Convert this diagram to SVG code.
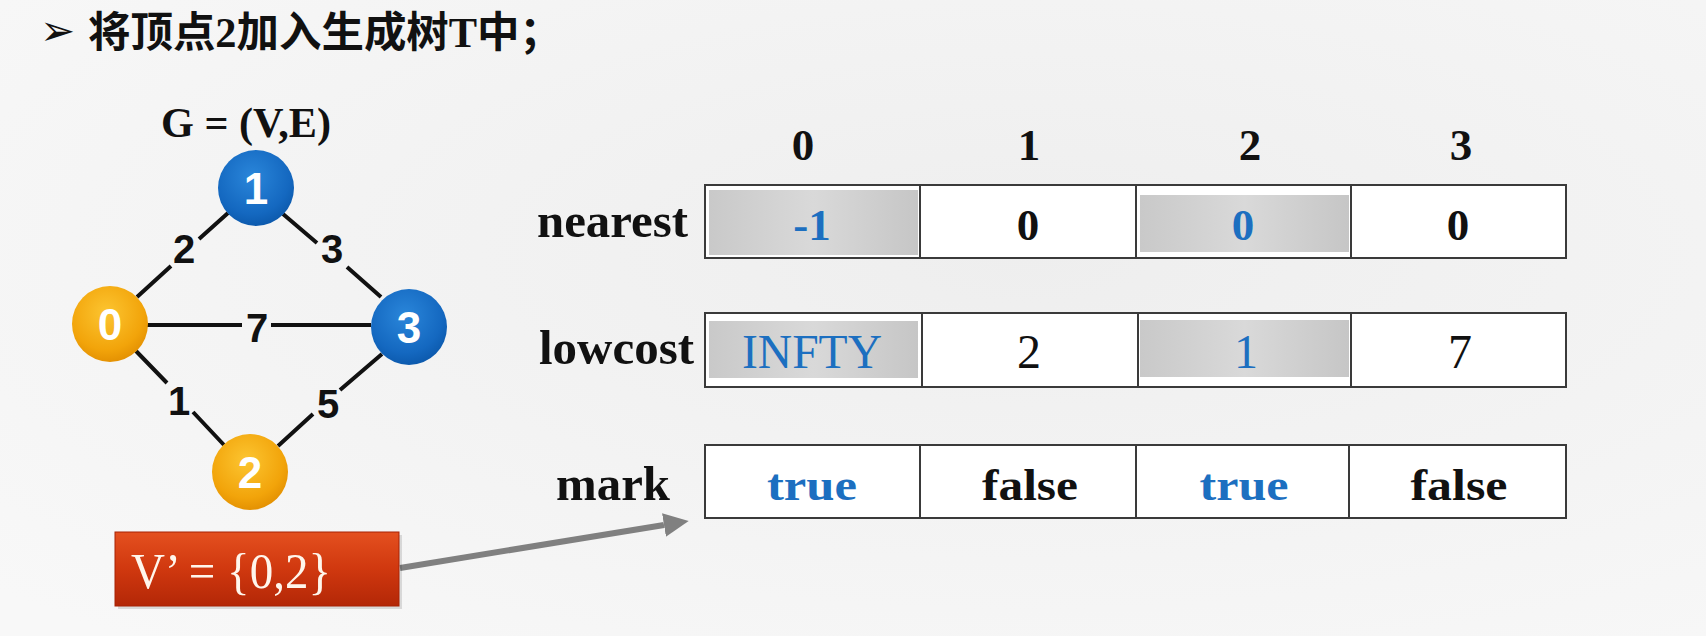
<svg xmlns="http://www.w3.org/2000/svg" width="1706" height="636" viewBox="0 0 1706 636">
  <defs>
    <style>
      .title { font-family: "Noto Sans CJK SC", "Liberation Sans", sans-serif; font-weight: bold; font-size: 42px; fill: #111; }
      .ser { font-family: "Liberation Serif", "Times New Roman", serif; }
      .bold { font-weight: bold; }
      .nodeLbl { font-family: "Liberation Sans", Arial, sans-serif; font-weight: bold; font-size: 44px; fill: #ffffff; text-anchor: middle; }
      .edgeLbl { font-family: "Liberation Sans", Arial, sans-serif; font-weight: bold; font-size: 40px; fill: #111; text-anchor: middle; }
      .edge { stroke: #111; stroke-width: 4; fill: none; }
      .hdr { font-family: "Liberation Serif", serif; font-weight: bold; font-size: 45px; fill: #111; text-anchor: middle; }
      .rowLbl { font-family: "Liberation Serif", serif; font-weight: bold; font-size: 48px; fill: #111; }
      .cellB { font-family: "Liberation Serif", serif; font-weight: bold; font-size: 45px; text-anchor: middle; }
      .cellR { font-family: "Liberation Serif", serif; font-size: 48px; text-anchor: middle; }
      .blue { fill: #1c6fc0; }
      .blk { fill: #111; }
      .row { fill: #ffffff; stroke: #3a3a3a; stroke-width: 2; }
      .div { stroke: #3a3a3a; stroke-width: 2; }
      .shade { fill: url(#shadeGrad); }
    </style>
    <radialGradient id="orangeGrad" cx="0.45" cy="0.35" r="0.7">
      <stop offset="0" stop-color="#fcc531"/>
      <stop offset="0.7" stop-color="#f2a40a"/>
      <stop offset="1" stop-color="#e08c00"/>
    </radialGradient>
    <radialGradient id="blueGrad" cx="0.45" cy="0.35" r="0.7">
      <stop offset="0" stop-color="#2a86da"/>
      <stop offset="0.7" stop-color="#1468c0"/>
      <stop offset="1" stop-color="#0a56a8"/>
    </radialGradient>
    <linearGradient id="shadeGrad" x1="0" y1="0" x2="1" y2="0">
      <stop offset="0" stop-color="#c9c9c9"/>
      <stop offset="0.5" stop-color="#d9d9d9"/>
      <stop offset="1" stop-color="#c6c6c6"/>
    </linearGradient>
    <linearGradient id="redGrad" x1="0" y1="0" x2="0" y2="1">
      <stop offset="0" stop-color="#e4501f"/>
      <stop offset="0.5" stop-color="#d0380f"/>
      <stop offset="1" stop-color="#b32707"/>
    </linearGradient>
    <radialGradient id="bgGrad" cx="0.6" cy="0.4" r="0.8">
      <stop offset="0" stop-color="#eeeeee"/>
      <stop offset="1" stop-color="#f8f8f8"/>
    </radialGradient>
    <marker id="arrowHead" markerUnits="userSpaceOnUse" markerWidth="26" markerHeight="24" refX="0" refY="12" orient="auto" viewBox="0 0 26 24">
      <path d="M0,0 L25,12 L0,24 Z" fill="#808080"/>
    </marker>
  </defs>

  <rect x="0" y="0" width="1706" height="636" fill="url(#bgGrad)"/>

  <!-- title -->
  <g id="title">
    <text x="40" y="45" font-family="DejaVu Sans, sans-serif" font-size="42" fill="#111">➢</text>
    <text class="title" x="88" y="47" textLength="474" lengthAdjust="spacingAndGlyphs">将顶点<tspan class="ser">2</tspan>加入生成树<tspan class="ser">T</tspan>中；</text>
  </g>

  <g id="graph-label">
    <text class="ser bold" x="161" y="137" font-size="42" fill="#111" textLength="170" lengthAdjust="spacingAndGlyphs">G = (V,E)</text>
  </g>

  <!-- connectors -->
  <g id="connectors">
    <!-- 0-1 weight 2 -->
    <path class="edge" d="M228,213 L199,239 M171,266 L137,297"/>
    <!-- 1-3 weight 3 -->
    <path class="edge" d="M283,214 L317,243 M347,267 L381,297"/>
    <!-- 0-3 weight 7 -->
    <path class="edge" d="M146,325 L242,325 M271,325 L371,325"/>
    <!-- 0-2 weight 1 -->
    <path class="edge" d="M136,351 L167,383 M193,412 L224,445"/>
    <!-- 2-3 weight 5 -->
    <path class="edge" d="M278,446 L313,414 M340,390 L382,354"/>
    <!-- V' box to mark row -->
    <line x1="400" y1="568" x2="664" y2="525" stroke="#808080" stroke-width="6" marker-end="url(#arrowHead)"/>
  </g>

  <g id="edge-labels">
    <text class="edgeLbl" x="184" y="263">2</text>
    <text class="edgeLbl" x="332" y="263">3</text>
    <text class="edgeLbl" x="257" y="342">7</text>
    <text class="edgeLbl" x="179" y="415">1</text>
    <text class="edgeLbl" x="328" y="418">5</text>
  </g>

  <!-- nodes -->
  <g id="node-0">
    <circle cx="110" cy="324" r="38" fill="url(#orangeGrad)"/>
    <text class="nodeLbl" x="110" y="340">0</text>
  </g>
  <g id="node-1">
    <circle cx="256" cy="188" r="38" fill="url(#blueGrad)"/>
    <text class="nodeLbl" x="256" y="204">1</text>
  </g>
  <g id="node-2">
    <circle cx="250" cy="472" r="38" fill="url(#orangeGrad)"/>
    <text class="nodeLbl" x="250" y="488">2</text>
  </g>
  <g id="node-3">
    <circle cx="409" cy="327" r="38" fill="url(#blueGrad)"/>
    <text class="nodeLbl" x="409" y="343">3</text>
  </g>

  <!-- V' box -->
  <g id="vprime">
    <rect x="118" y="535" width="284" height="74" fill="#000" opacity="0.12"/>
    <rect x="115" y="532" width="284" height="74" fill="url(#redGrad)" stroke="#a82205" stroke-width="1"/>
    <text class="ser" x="131" y="588" font-size="50" fill="#fff6ec" textLength="200" lengthAdjust="spacingAndGlyphs">V’ = {0,2}</text>
  </g>

  <!-- table headers -->
  <g id="headers">
    <text class="hdr" x="803" y="160">0</text>
    <text class="hdr" x="1029" y="160">1</text>
    <text class="hdr" x="1250" y="160">2</text>
    <text class="hdr" x="1461" y="160">3</text>
  </g>

  <!-- nearest row -->
  <g id="row-nearest">
    <text class="rowLbl" x="537" y="237" textLength="151" lengthAdjust="spacingAndGlyphs">nearest</text>
    <rect class="row" x="705" y="185" width="861" height="73"/>
    <rect class="shade" x="709" y="190" width="209" height="65"/>
    <rect class="shade" x="1140" y="195" width="209" height="57"/>
    <line class="div" x1="920" y1="185" x2="920" y2="258"/>
    <line class="div" x1="1136" y1="185" x2="1136" y2="258"/>
    <line class="div" x1="1351" y1="185" x2="1351" y2="258"/>
    <text class="cellB blue" x="812" y="240">-1</text>
    <text class="cellB blk" x="1028" y="240">0</text>
    <text class="cellB blue" x="1243" y="240">0</text>
    <text class="cellB blk" x="1458" y="240">0</text>
  </g>

  <!-- lowcost row -->
  <g id="row-lowcost">
    <text class="rowLbl" x="539" y="364" textLength="155" lengthAdjust="spacingAndGlyphs">lowcost</text>
    <rect class="row" x="705" y="313" width="861" height="74"/>
    <rect class="shade" x="709" y="321" width="209" height="57"/>
    <rect class="shade" x="1140" y="320" width="209" height="57"/>
    <line class="div" x1="922" y1="313" x2="922" y2="387"/>
    <line class="div" x1="1138" y1="313" x2="1138" y2="387"/>
    <line class="div" x1="1351" y1="313" x2="1351" y2="387"/>
    <text class="cellR blue" x="812" y="368" textLength="140" lengthAdjust="spacingAndGlyphs">INFTY</text>
    <text class="cellR blk" x="1029" y="368">2</text>
    <text class="cellR blue" x="1246" y="368">1</text>
    <text class="cellR blk" x="1460" y="368">7</text>
  </g>

  <!-- mark row -->
  <g id="row-mark">
    <text class="rowLbl" x="556" y="500" textLength="114" lengthAdjust="spacingAndGlyphs">mark</text>
    <rect class="row" x="705" y="445" width="861" height="73"/>
    <line class="div" x1="920" y1="445" x2="920" y2="518"/>
    <line class="div" x1="1136" y1="445" x2="1136" y2="518"/>
    <line class="div" x1="1349" y1="445" x2="1349" y2="518"/>
    <text class="cellB blue" x="812" y="500" font-size="48" textLength="90" lengthAdjust="spacingAndGlyphs">true</text>
    <text class="cellB blk" x="1030" y="500" font-size="48" textLength="96" lengthAdjust="spacingAndGlyphs">false</text>
    <text class="cellB blue" x="1244" y="500" font-size="48" textLength="89" lengthAdjust="spacingAndGlyphs">true</text>
    <text class="cellB blk" x="1459" y="500" font-size="48" textLength="97" lengthAdjust="spacingAndGlyphs">false</text>
  </g>
</svg>
